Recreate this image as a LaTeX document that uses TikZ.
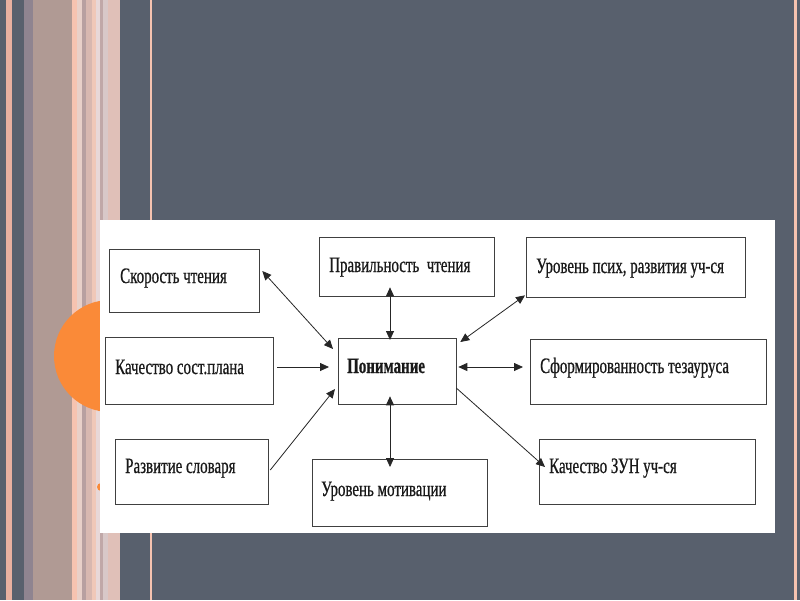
\documentclass[tikz,border=0pt]{standalone}
\usepackage{fontspec}
\usetikzlibrary{arrows.meta,calc}
\newfontfamily\condfont[FakeStretch=0.68,FakeBold=0.6]{Liberation Serif}
\definecolor{slate}{HTML}{58606D}
\definecolor{orng}{HTML}{FA8A38}
\definecolor{peach}{HTML}{F6C3B0}
\definecolor{rosy}{HTML}{B09A94}
\definecolor{mauve}{HTML}{8F8490}
\definecolor{sa}{HTML}{E8D0C8}
\definecolor{sb}{HTML}{B8A0A0}
\definecolor{sc}{HTML}{D8B8B0}
\definecolor{sd}{HTML}{F0C8B8}
\definecolor{se}{HTML}{E8D8D8}
\definecolor{sf}{HTML}{C0A8A8}
\definecolor{sg}{HTML}{D8C8C8}
\definecolor{sh}{HTML}{E0C0B8}
\definecolor{si}{HTML}{E8B0A0}
\tikzset{
  box/.style={draw=black!75, line width=1.3pt, fill=white, inner sep=0pt, anchor=north west},
  lbl/.style={anchor=base west, inner sep=0pt, text=black!90, font=\condfont\fontsize{22}{26}\selectfont},
  conn/.style={draw=black!85, line width=0.8pt},
  tip/.style={-{Triangle[length=9pt,width=8pt]}},
  tips/.style={{Triangle[length=9pt,width=8pt]}-{Triangle[length=9pt,width=8pt]}}
}
\begin{document}
\begin{tikzpicture}[x=1pt,y=-1pt]
\useasboundingbox (0,0) rectangle (800,600);
% background
\fill[slate] (0,0) rectangle (800,600);
% stripes
\fill[si] (6,0) rectangle (12,600);
\fill[mauve] (24,0) rectangle (33,600);
\fill[rosy] (33,0) rectangle (72,600);
\fill[peach] (72,0) rectangle (77,600);
\fill[sa] (77,0) rectangle (82,600);
\fill[sb] (82,0) rectangle (86,600);
\fill[sc] (86,0) rectangle (92,600);
\fill[sd] (92,0) rectangle (96,600);
\fill[se] (96,0) rectangle (100,600);
\fill[sf] (100,0) rectangle (103,600);
\fill[sg] (103,0) rectangle (108,600);
\fill[sh] (108,0) rectangle (120,600);
\fill[peach] (150,0) rectangle (152,600);
\fill[peach] (794,0) rectangle (797,600);
% orange circle and dot
\fill[orng] (110,356) circle (56);
\fill[orng] (101,487) circle (4);
% white panel
\fill[white] (100,220) rectangle (775,533);
% boxes
\node[box, minimum width=150, minimum height=63] (skor) at (109,249) {};
\node[box, minimum width=175, minimum height=59] (prav) at (319,237) {};
\node[box, minimum width=219, minimum height=60] (psih) at (526,237) {};
\node[box, minimum width=168, minimum height=67] (kach) at (105,337) {};
\node[box, minimum width=118, minimum height=66] (pon) at (338,338) {};
\node[box, minimum width=236, minimum height=65] (sform) at (530,339) {};
\node[box, minimum width=153, minimum height=65] (razv) at (115,439) {};
\node[box, minimum width=175, minimum height=67] (motiv) at (312,459) {};
\node[box, minimum width=216, minimum height=65] (zun) at (539,439) {};
% labels
\node[lbl] (tskor) at (120,283) {Скорость чтения};
\node[lbl] (tprav) at (329,272) {Правильность\ \ чтения};
\node[lbl] (tpsih) at (536,273) {Уровень псих, развития уч-ся};
\node[lbl] (tkach) at (115,374) {Качество сост.плана};
\node[lbl, font=\condfont\bfseries\fontsize{22}{26}\selectfont] (tpon) at (347,373) {Понимание};
\node[lbl] (tsform) at (540,373) {Сформированность тезауруса};
\node[lbl] (trazv) at (125,473) {Развитие словаря};
\node[lbl] (tmotiv) at (321,496) {Уровень мотивации};
\node[lbl] (tzun) at (549,473) {Качество ЗУН уч-ся};
% connector end points
\coordinate (a1) at ($(skor.north east)+(2,22)$);
\coordinate (a2) at ($(pon.north west)+(-5,11)$);
\coordinate (b1) at ($(prav.south west)+(71,-10)$);
\coordinate (b2) at ($(pon.north west)+(52,2)$);
\coordinate (c1) at ($(psih.south west)+(-1,-3)$);
\coordinate (c2) at ($(pon.north east)+(3,4)$);
\coordinate (d1) at ($(kach.north east)+(3,30)$);
\coordinate (d2) at ($(pon.north west)+(-9,29)$);
\coordinate (e1) at ($(pon.north east)+(1,29)$);
\coordinate (e2) at ($(sform.north west)+(-7,28)$);
\coordinate (f1) at ($(razv.north east)+(1,31)$);
\coordinate (f2) at ($(pon.north west)+(-3,51)$);
\coordinate (g1) at ($(pon.south west)+(52,-9)$);
\coordinate (g2) at ($(motiv.north west)+(78,8)$);
\coordinate (h1) at ($(pon.north east)+(-1,50)$);
\coordinate (h2) at ($(zun.north west)+(6,28)$);
% connectors
\draw[conn, tips] (a1) -- (a2);
\draw[conn, tips] (b1) -- (b2);
\draw[conn, tips] (c1) -- (c2);
\draw[conn, tip] (d1) -- (d2);
\draw[conn, tips] (e1) -- (e2);
\draw[conn, tip] (f1) -- (f2);
\draw[conn, tips] (g1) -- (g2);
\draw[conn, tip] (h1) -- (h2);
\end{tikzpicture}
\end{document}
